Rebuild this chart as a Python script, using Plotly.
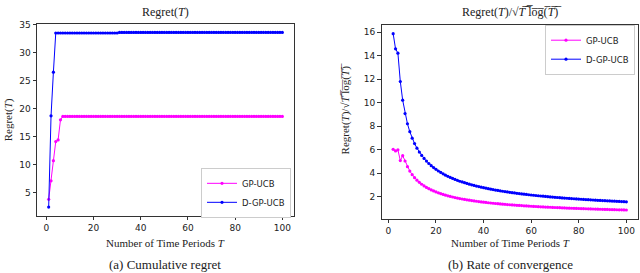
import numpy as np
import plotly.graph_objects as go

# ---- data ----
T = list(range(1, 101))
gp_ucb_regret = [3.8, 7.1, 10.7, 14.1, 14.4, 18.0] + [18.6] * 94
dgp_ucb_regret = [2.4, 18.7, 26.5] + [33.5] * 27 + [33.6] * 70

x_ticks = [0, 20, 40, 60, 80, 100]
left_y_ticks = [5, 10, 15, 20, 25, 30, 35]
right_y_ticks = [2, 4, 6, 8, 10, 12, 14, 16]

MAG = "#ff00ff"
BLUE = "#0000ff"

W, H = 640, 273


def px_x(p):
    return p / W


def px_y(p):
    return 1 - p / H


# rate of convergence: Regret(T)/sqrt(T log T), defined for T >= 2
T2 = np.array(T[1:], dtype=float)
gp_rate = np.array(gp_ucb_regret[1:]) / np.sqrt(T2 * np.log(T2))
dgp_rate = np.array(dgp_ucb_regret[1:]) / np.sqrt(T2 * np.log(T2))

fig = go.Figure()


def add(x, y, color, name, xa, ya, legend, showlegend=True):
    fig.add_trace(go.Scatter(
        x=x, y=y, mode="lines+markers", name=name,
        line=dict(color=color, width=1),
        marker=dict(color=color, size=3.2, symbol="circle"),
        xaxis=xa, yaxis=ya, legend=legend, showlegend=showlegend,
    ))


add(T, gp_ucb_regret, MAG, "GP-UCB", "x", "y", "legend")
add(T, dgp_ucb_regret, BLUE, "D-GP-UCB", "x", "y", "legend")
add(T2, gp_rate, MAG, "GP-UCB", "x2", "y2", "legend2")
add(T2, dgp_rate, BLUE, "D-GP-UCB", "x2", "y2", "legend2")

tickfont = dict(family="DejaVu Sans", size=9, color="#222")
axcommon = dict(showgrid=False, zeroline=False, showline=True, mirror=True,
                linecolor="#333", linewidth=1, ticks="outside", ticklen=3.5,
                tickcolor="#333", tickfont=tickfont)

legfont = dict(family="DejaVu Sans", size=8.5, color="#222")
fig.update_layout(
    width=W, height=H, margin=dict(l=0, r=0, t=0, b=0),
    plot_bgcolor="white", paper_bgcolor="white",
    xaxis=dict(domain=[px_x(37), px_x(294)], range=[-3.95, 104.95],
               tickvals=x_ticks, anchor="y", **axcommon),
    yaxis=dict(domain=[px_y(215), px_y(20)], range=[0.84, 35.16],
               tickvals=left_y_ticks, anchor="x", **axcommon),
    xaxis2=dict(domain=[px_x(381.5), px_x(638)], range=[-2.9, 104.9],
                tickvals=x_ticks, anchor="y2", **axcommon),
    yaxis2=dict(domain=[px_y(218), px_y(21)], range=[0.116, 16.65],
                tickvals=right_y_ticks, anchor="x2", **axcommon),
    legend=dict(x=px_x(291), y=px_y(217), xanchor="right", yanchor="bottom",
                bgcolor="white", bordercolor="#ccc", borderwidth=1,
                font=legfont, itemwidth=30, tracegroupgap=0),
    legend2=dict(x=px_x(635), y=px_y(21), xanchor="right", yanchor="top",
                 bgcolor="white", bordercolor="#ccc", borderwidth=1,
                 font=legfont, itemwidth=30, tracegroupgap=0),
    showlegend=True,
)

serif = "Liberation Serif"
ann = []


def text(x, y, s, size, angle=0):
    ann.append(dict(x=px_x(x), y=px_y(y), xref="paper", yref="paper",
                    text=s, showarrow=False, textangle=angle,
                    xanchor="center", yanchor="middle",
                    font=dict(family=serif, size=size, color="#222")))


sqrt_arg = "".join(c + "\u0305" for c in "T log(T)")
rate_label = "Regret(<i>T</i>)/√" + sqrt_arg.replace("T", "<i>T</i>")
text(165, 8, "Regret(<i>T</i>)", 12)
text(512, 8, rate_label, 12)
text(165, 243, "Number of Time Periods <i>T</i>", 11)
text(510, 243, "Number of Time Periods <i>T</i>", 11)
text(8, 118, "Regret(<i>T</i>)", 11, -90)
text(345, 107, rate_label, 11, -90)
text(165, 264, "(a) Cumulative regret", 13)
text(510, 264, "(b) Rate of convergence", 13)
fig.update_layout(annotations=ann)

fig.write_html(
    "out.html",
    config={"displayModeBar": False},
    post_script="document.body.style.margin='0';document.body.style.overflow='hidden';",
)
